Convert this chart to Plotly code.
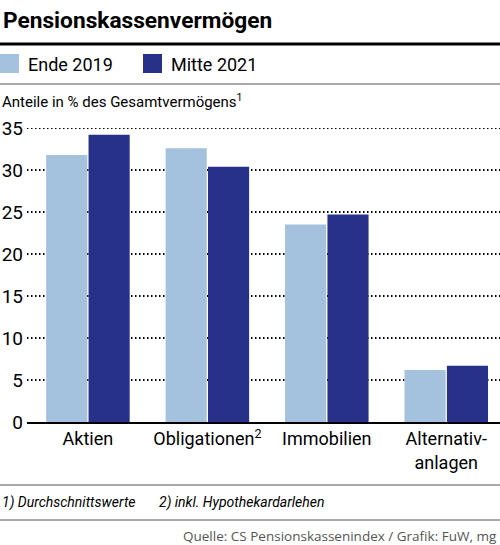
import plotly.graph_objects as go

# data
categories = ["Aktien", "Obligationen<sup>2</sup>", "Immobilien", "Alternativ-<br>anlagen"]
series_names = ["Ende 2019", "Mitte 2021"]
ende_2019 = [31.8, 32.6, 23.5, 6.2]
mitte_2021 = [34.2, 30.4, 24.7, 6.7]
y_ticks = [0, 5, 10, 15, 20, 25, 30, 35]

colors = ["#a4c1de", "#27318a"]
FONT = "Roboto, sans-serif"

W, H = 500, 545
L, R, T, B = 27, 0, 128, 123


def px(x):
    return (x - L) / (W - L - R)


def py(y):
    return (H - B - y) / (H - T - B)


fig = go.Figure()
for name, vals, col in zip(series_names, [ende_2019, mitte_2021], colors):
    fig.add_trace(go.Bar(x=categories, y=vals, name=name, marker_color=col,
                         marker_line_width=0, showlegend=False))

fig.update_layout(
    width=W, height=H,
    margin=dict(l=L, r=R, t=T, b=B),
    paper_bgcolor="white", plot_bgcolor="white",
    barmode="group", bargap=0.29, bargroupgap=0.03,
    font=dict(family=FONT, color="black"),
)
fig.update_xaxes(range=[-0.51, 3.45], showgrid=False, showline=True,
                 linecolor="black", linewidth=1.5, ticks="",
                 tickfont=dict(size=18, family=FONT))
fig.update_yaxes(range=[0, 35], tickvals=y_ticks, showline=False, zeroline=False,
                 showgrid=False, ticks="", ticklabelstandoff=3,
                 tickfont=dict(size=19, family=FONT))

# dotted grid (griddash ignores custom patterns, so use shapes below the bars)
for v in y_ticks[1:]:
    fig.add_shape(type="line", xref="paper", yref="y", x0=0, x1=1, y0=v, y1=v,
                  layer="below", line=dict(color="black", width=1.8, dash="1.5px,2.5px"))

# title and rules
fig.add_annotation(text="<b>Pensionskassenvermögen</b>", xref="paper", yref="paper",
                   x=px(1), y=py(21), xanchor="left", yanchor="middle",
                   showarrow=False, font=dict(size=22.7, family=FONT))
fig.add_shape(type="line", xref="paper", yref="paper", x0=px(0), x1=px(W),
              y0=py(44), y1=py(44), line=dict(color="black", width=3))

# legend
leg_x = [0, 143]
for name, col, lx in zip(series_names, colors, leg_x):
    fig.add_shape(type="rect", xref="paper", yref="paper", x0=px(lx), x1=px(lx + 19),
                  y0=py(54), y1=py(73), fillcolor=col, line_width=0)
    fig.add_annotation(text=name, xref="paper", yref="paper", x=px(lx + 26), y=py(64),
                       xanchor="left", yanchor="middle", showarrow=False,
                       font=dict(size=18, family=FONT))
fig.add_shape(type="line", xref="paper", yref="paper", x0=px(0), x1=px(W),
              y0=py(84), y1=py(84), line=dict(color="#555555", width=1))

fig.add_annotation(text="Anteile in % des Gesamtvermögens<sup>1</sup>", xref="paper",
                   yref="paper", x=px(0), y=py(101), xanchor="left", yanchor="middle",
                   showarrow=False, font=dict(size=15, family=FONT))

# footer
fig.add_shape(type="line", xref="paper", yref="paper", x0=px(0), x1=px(W),
              y0=py(485), y1=py(485), line=dict(color="#555555", width=1))
for note, nx in zip(["1) Durchschnittswerte", "2) inkl. Hypothekardarlehen"], [0, 157]):
    fig.add_annotation(text="<i>" + note + "</i>", xref="paper", yref="paper",
                       x=px(nx), y=py(502), xanchor="left", yanchor="middle",
                       showarrow=False, font=dict(size=14, family=FONT))
fig.add_shape(type="line", xref="paper", yref="paper", x0=px(0), x1=px(W),
              y0=py(520), y1=py(520), line=dict(color="#555555", width=1))
fig.add_annotation(text="Quelle: CS Pensionskassenindex / Grafik: FuW, mg",
                   xref="paper", yref="paper", x=px(499), y=py(536), xanchor="right",
                   yanchor="middle", showarrow=False,
                   font=dict(size=13.5, family="Open Sans, sans-serif", color="#555555"))

fig.write_html("out.html", config={"displayModeBar": False},
               post_script="document.body.style.margin='0';")
